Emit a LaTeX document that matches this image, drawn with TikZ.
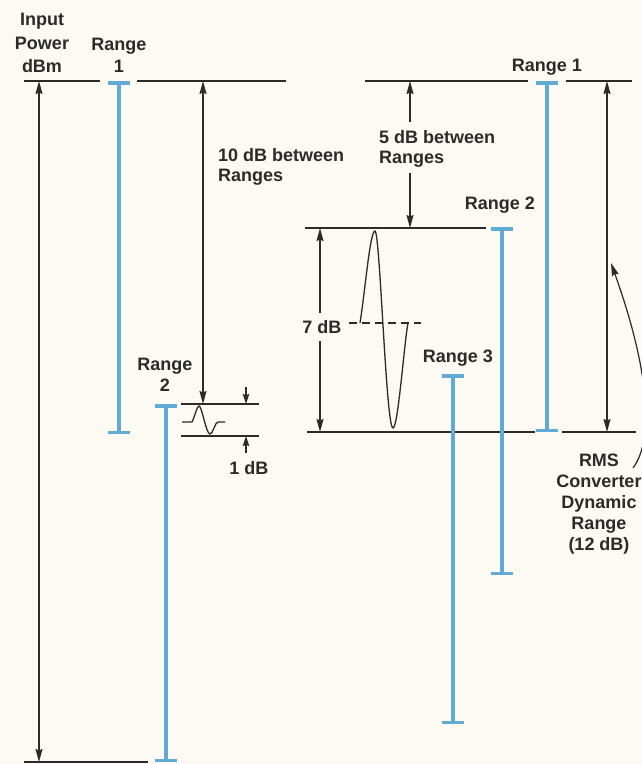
\documentclass[tikz,border=0pt]{standalone}
\usepackage{fontspec}
\setmainfont{Liberation Sans}
\usetikzlibrary{arrows.meta}
\definecolor{ink}{RGB}{45,42,42}
\definecolor{rngblue}{RGB}{96,170,212}
\definecolor{paper}{RGB}{252,250,243}
\begin{document}
\begin{tikzpicture}[x=1pt,y=-1pt,
  lvl/.style={draw=ink,line width=1.6pt},
  dim/.style={draw=ink,line width=1.2pt,{Stealth[length=13pt,width=7pt,inset=1.5pt]}-{Stealth[length=13pt,width=7pt,inset=1.5pt]}},
  tipend/.style={draw=ink,line width=1.2pt,-{Stealth[length=13pt,width=7pt,inset=1.5pt]}},
  smalltip/.style={draw=ink,line width=1.1pt,-{Stealth[length=10pt,width=6.5pt,inset=1.2pt]}},
  rngbar/.style={draw=rngblue,line width=3.5pt,{Bar[width=22pt]}-{Bar[width=22pt]}},
  lab/.style={text=ink,font=\bfseries\fontsize{18}{21}\selectfont,inner sep=0pt},
  wave/.style={draw=ink,line width=1.3pt},
]
\fill[paper] (0,0) rectangle (642,764);
\useasboundingbox (0,0) rectangle (642,764);

% ---------- labels ----------
\node[lab,anchor=north,align=center,font=\bfseries\fontsize{18}{23.5}\selectfont] (inLab) at (42,13) {Input\\Power\\dBm};
\node[lab,anchor=north,align=center,font=\bfseries\fontsize{18}{22}\selectfont] (r1LLab) at (119,38) {Range\\1};
\node[lab,anchor=north west,align=left,font=\bfseries\fontsize{18}{19.8}\selectfont] (tenLab) at (218,148) {10 dB between\\Ranges};
\node[lab,anchor=base] (oneLab) at (249,474) {1 dB};
\node[lab,anchor=north,align=center] (r2LLab) at (165,358) {Range\\2};
\node[lab,anchor=north west,align=left,font=\bfseries\fontsize{18}{20}\selectfont] (fiveLab) at (379,130) {5 dB between\\Ranges};
\node[lab,anchor=base] (r1RLab) at (547,71) {Range 1};
\node[lab,anchor=base] (r2RLab) at (500,209) {Range 2};
\node[lab,anchor=base] (sevenLab) at (322,333) {7 dB};
\node[lab,anchor=base] (r3Lab) at (458,362) {Range 3};
\node[lab,anchor=north,align=center] (rmsLab) at (599,454) {RMS\\Converter\\Dynamic\\Range\\(12 dB)};

% ---------- level lines ----------
\draw[lvl] (24,81) -- (100,81);
\draw[lvl] (137,81) -- (286,81);
\draw[lvl] (365,81) -- (528,81);
\draw[lvl] (566,81) -- (632,81);
\draw[lvl] (24,762) -- (148,762);
\draw[lvl] (181,404) -- (259,404);
\draw[lvl] (181,436) -- (259,436);
\draw[lvl] (305,228) -- (486,228);
\draw[lvl] (307,432) -- (535,432);
\draw[lvl] (562,432) -- (636,432);

% ---------- range bars ----------
\coordinate (r1LTop) at (119,81);  \coordinate (r1LBot) at (119,434);
\coordinate (r2LTop) at (166,404); \coordinate (r2LBot) at (166,762);
\coordinate (r1RTop) at (547,81);  \coordinate (r1RBot) at (547,432);
\coordinate (r2RTop) at (502,227); \coordinate (r2RBot) at (502,575);
\coordinate (r3Top) at (453,374);  \coordinate (r3Bot) at (453,724);
\draw[rngbar] (r1LTop) -- (r1LBot);
\draw[rngbar] (r2LTop) -- (r2LBot);
\draw[rngbar] (r1RTop) -- (r1RBot);
\draw[rngbar] (r2RTop) -- (r2RBot);
\draw[rngbar] (r3Top) -- (r3Bot);

% ---------- dimension arrows ----------
\coordinate (inTop) at (39,81);   \coordinate (inBot) at (39,762);
\draw[dim] (inTop) -- (inBot);
\coordinate (tenTop) at (203,81); \coordinate (tenBot) at (203,404);
\draw[dim] (tenTop) -- (tenBot);
\coordinate (oneA) at (246,387);  \coordinate (oneAend) at (246,404);
\coordinate (oneB) at (246,453);  \coordinate (oneBend) at (246,436);
\draw[smalltip] (oneA) -- (oneAend);
\draw[smalltip] (oneB) -- (oneBend);
\coordinate (fiveTop) at (410,81);  \coordinate (fiveU) at (410,122);
\coordinate (fiveL) at (410,173);   \coordinate (fiveBot) at (410,228);
\draw[tipend] (fiveU) -- (fiveTop);
\draw[tipend] (fiveL) -- (fiveBot);
\coordinate (sevTop) at (320,228);  \coordinate (sevU) at (320,313);
\coordinate (sevL) at (320,341);    \coordinate (sevBot) at (320,432);
\draw[tipend] (sevU) -- (sevTop);
\draw[tipend] (sevL) -- (sevBot);
\coordinate (rmsTop) at (607,81);  \coordinate (rmsBot) at (607,432);
\draw[dim] (rmsTop) -- (rmsBot);
\coordinate (curveStart) at (633,468); \coordinate (curveTip) at (611,263);
\draw[tipend] (curveStart) .. controls (654,440) and (650,372) .. (curveTip);

% ---------- waves ----------
\draw[wave] (182,422) -- (192,422) .. controls (195,416) and (197,406) .. (199,406)
  .. controls (202,406) and (206,434) .. (210,434)
  .. controls (213,434) and (215,422) .. (218,422) -- (225,422);
\draw[ink,line width=1.2pt,dash pattern=on 8pt off 5pt] (349,323) -- (421,323);
\draw[wave] (360,323) .. controls (365,292) and (370,231) .. (375,231)
  .. controls (380,231) and (386,428) .. (393,428)
  .. controls (398,428) and (404,345) .. (408,323);
\end{tikzpicture}
\end{document}
